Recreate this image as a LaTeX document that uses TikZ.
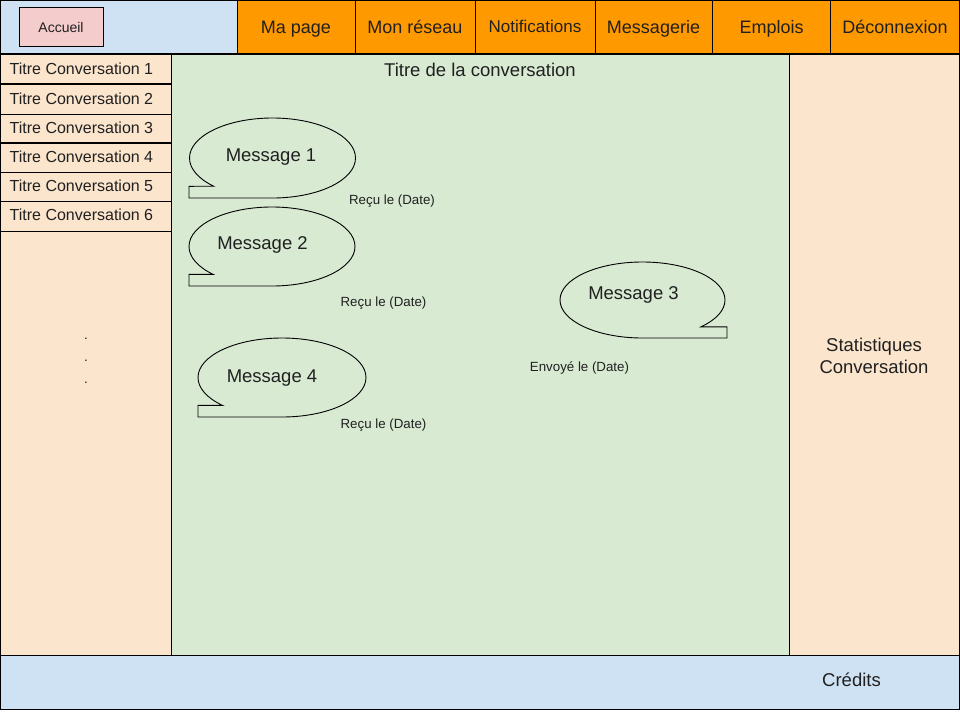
\documentclass[tikz,border=0pt]{standalone}
\usepackage{fontspec}
\setmainfont{Liberation Sans}
\definecolor{hblue}{HTML}{CFE2F3}
\definecolor{hpink}{HTML}{F4CCCC}
\definecolor{horange}{HTML}{FF9900}
\definecolor{hpeach}{HTML}{FCE5CD}
\definecolor{hgreen}{HTML}{D9EAD3}
\definecolor{htext}{HTML}{202020}
\begin{document}
\begin{tikzpicture}[x=1pt,y=-1pt,
  box/.style={draw=black, line width=1pt},
  lbl/.style={inner sep=0pt, text=htext, text height=13.2pt, text depth=0pt, font=\fontsize{18.5}{21.7}\selectfont},
  stat/.style={inner sep=0pt, text=htext, align=center, font=\fontsize{18.5}{21.7}\selectfont},
  tab/.style={inner sep=0pt, text=htext, text height=12.9pt, text depth=0pt, font=\fontsize{18}{21}\selectfont},
  small/.style={inner sep=0pt, text=htext, text height=9.5pt, text depth=0pt, font=\fontsize{13.3}{15}\selectfont},
  dot/.style={inner sep=0pt, text=htext, font=\fontsize{13.3}{15}\selectfont},
  conv/.style={inner sep=0pt, anchor=west, text=htext, text height=11.5pt, text depth=0pt, font=\fontsize{16}{18}\selectfont},
  bubble/.style={draw=black, line width=0.9pt}]
\useasboundingbox (0,0) rectangle (960,720);
\fill[white] (0,0) rectangle (960,720);

% panels
\path[box, fill=hgreen] (171,54) rectangle (789,655);
\path[box, fill=hpeach] (789,54) rectangle (959.5,655);
\path[box, fill=hpeach] (0.5,54) rectangle (171,656);
\path[box, fill=hblue] (0.5,655) rectangle (959.5,709);

% conversation rows
\path[box, fill=hpeach] (0.5,54) rectangle (171,84);
\path[box, fill=hpeach] (0.5,84) rectangle (171,114);
\path[box, fill=hpeach] (0.5,114) rectangle (171,143);
\path[box, fill=hpeach] (0.5,143) rectangle (171,172);
\path[box, fill=hpeach] (0.5,172) rectangle (171,201);
\path[box, fill=hpeach] (0.5,201) rectangle (171,231.5);
\draw[line width=1.7pt] (0.5,84) -- (171,84);
\draw[line width=1.7pt] (0.5,143) -- (171,143);
\node[conv] (c1) at (9.5,69) {Titre Conversation 1};
\node[conv] (c2) at (9.5,99) {Titre Conversation 2};
\node[conv] (c3) at (9.5,128) {Titre Conversation 3};
\node[conv] (c4) at (9.5,157) {Titre Conversation 4};
\node[conv] (c5) at (9.5,186) {Titre Conversation 5};
\node[conv] (c6) at (9.5,215) {Titre Conversation 6};
\node[dot] (d1) at (86,339) {.};
\node[dot] (d2) at (86,361) {.};
\node[dot] (d3) at (86,383) {.};

% header
\path[box, fill=hblue] (0.5,0.5) rectangle (237,53.5);
\path[box, fill=hpink] (19,7) rectangle (103,46);
\node[small, text height=10pt, font=\fontsize{14}{16}\selectfont] (accueil) at (61,27) {Accueil};
\path[box, fill=horange] (237,0.5) rectangle (355,53.5);
\path[box, fill=horange] (355,0.5) rectangle (475,53.5);
\path[box, fill=horange] (475,0.5) rectangle (595,53.5);
\path[box, fill=horange] (595,0.5) rectangle (712.5,53.5);
\path[box, fill=horange] (712.5,0.5) rectangle (830.5,53.5);
\path[box, fill=horange] (830.5,0.5) rectangle (959.5,53.5);
\node[tab] (t1) at (296,27) {Ma page};
\node[tab] (t2) at (415,27) {Mon réseau};
\node[tab, text height=12.2pt, font=\fontsize{17}{20}\selectfont] (t3) at (535,26) {Notifications};
\node[tab] (t4) at (653.5,27) {Messagerie};
\node[tab] (t5) at (771.5,27) {Emplois};
\node[tab] (t6) at (895,27) {Déconnexion};

% center title
\node[lbl] (title) at (480,69.5) {Titre de la conversation};

% right panel & footer text
\node[stat, yshift=-0.5pt] (stats) at (874,355.5) {Statistiques\\Conversation};
\node[lbl] (credits) at (851.5,679.5) {Crédits};

% bubbles
\draw[bubble] (189,198) -- (272.5,198) arc[start angle=90, end angle=-225, x radius=83, y radius=40] -- (189,186.3) -- cycle;
\draw[bubble] (189,286) -- (272,286) arc[start angle=90, end angle=-225, x radius=83, y radius=39.5] -- (189,274.4) -- cycle;
\draw[bubble] (198,417) -- (282,417) arc[start angle=90, end angle=-225, x radius=84, y radius=39.5] -- (198,405.4) -- cycle;
\draw[bubble] (727,338) -- (642.5,338) arc[start angle=90, end angle=405, x radius=82.5, y radius=38] -- (727,326.9) -- cycle;

\node[lbl] (m1) at (271,155) {Message 1};
\node[lbl] (m2) at (262.5,243) {Message 2};
\node[lbl] (m3) at (633.5,292.5) {Message 3};
\node[lbl] (m4) at (272,376) {Message 4};

\node[small] (r1) at (392,200) {Reçu le (Date)};
\node[small] (r2) at (383.5,302) {Reçu le (Date)};
\node[small] (r4) at (383.5,424) {Reçu le (Date)};
\node[small] (e3) at (579.5,366.5) {Envoyé le (Date)};
\end{tikzpicture}
\end{document}
